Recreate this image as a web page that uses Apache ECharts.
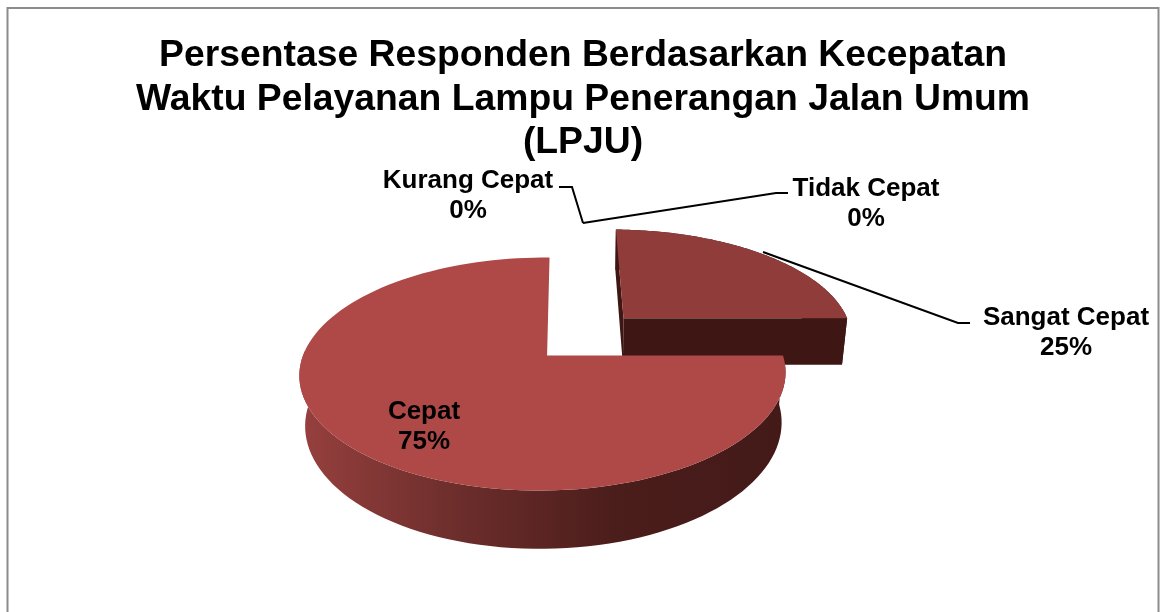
<!DOCTYPE html>
<html>
<head>
<meta charset="utf-8">
<style>
  html, body { margin: 0; padding: 0; background: #fff; }
  #chart { width: 1161px; height: 612px; }
</style>
<script src="https://cdn.jsdelivr.net/npm/echarts@6/dist/echarts.min.js"></script>
</head>
<body>
<div id="chart"></div>
<script>
var categories = ['Sangat Cepat', 'Cepat', 'Kurang Cepat', 'Tidak Cepat'];
var values = [25, 75, 0, 0];
var titleLines = [
    'Persentase Responden Berdasarkan Kecepatan',
    'Waktu Pelayanan Lampu Penerangan Jalan Umum',
    '(LPJU)'
];

// how far each slice is pulled out of the pie, in radii
var pull = [[0.332, -0.346], [0, 0], [0, 0], [0, 0]];
var labelPos = [[1066, 333], [424, 427], [468, 196], [866, 204]];
var leaderLines = [
    [[970, 323], [958, 323], [763, 252]],
    null,
    [[559, 187], [572, 187], [583, 223]],
    [[788, 193], [776, 193], [583, 223]]
];

// projection of the tilted pie
var cx = 543, cy = 355.5, R = 240, A = 113.6, p = 0.159, wall = 49;
var apexU = 0.017, skew = 3.5, vanishX = 590, baseScale = 0.98;

var sliceColors = ['#8f3c3a', '#ae4947'];
var darkColor = '#3e1614';

function project(u, v, isBase) {
    var d = 1 / (1 - p * v);
    var x = cx + (R * u - skew * v) * d;
    var y = cy + A * v * d;
    if (isBase) {
        y += wall * d;
        x = vanishX + (x - vanishX) * baseScale;
    }
    return [x, y];
}

function rimPoint(angle, off) {
    // ray from the slice apex to the circle, angle clockwise from 12 o'clock
    var du = Math.sin(angle), dv = -Math.cos(angle);
    var b = apexU * du;
    var t = -b + Math.sqrt(b * b - apexU * apexU + 1);
    return [apexU + t * du + off[0], t * dv + off[1]];
}

function buildSlice(index) {
    var total = values.reduce(function (a, b) { return a + b; }, 0);
    var before = 0;
    for (var i = 0; i < index; i++) before += values[i];
    var start = before / total * Math.PI * 2;
    var end = (before + values[index]) / total * Math.PI * 2;
    var off = pull[index];
    var pulled = off[0] !== 0 || off[1] !== 0;
    var apex = [apexU + off[0], off[1]];

    var topRim = [], wallTop = [], wallBase = [];
    var steps = 120;
    for (var s = 0; s <= steps; s++) {
        var pt = rimPoint(start + (end - start) * s / steps, off);
        topRim.push(project(pt[0], pt[1], false));
        // the back of the rim is hidden behind the top face
        if (pulled || pt[1] > -0.05) {
            wallTop.push(project(pt[0], pt[1], false));
            wallBase.push(project(pt[0], pt[1], true));
        }
    }
    var topApex = project(apex[0], apex[1], false);
    var baseApex = project(apex[0], apex[1], true);
    var children = [];

    var wallFill = pulled ? darkColor : new echarts.graphic.LinearGradient(300, 0, 785, 0, [
        { offset: 0, color: '#96403e' },
        { offset: 0.3, color: '#6f2f2d' },
        { offset: 0.65, color: '#4b1d1b' },
        { offset: 1, color: '#431a18' }
    ], true);
    children.push({
        type: 'polygon',
        shape: { points: wallTop.concat(wallBase.reverse()) },
        style: { fill: wallFill }
    });
    // cut faces only show on the pulled out slice
    if (pulled) {
        children.push({
            type: 'polygon',
            shape: { points: [topApex, topRim[0], project(off[0] + apexU, off[1] - 1, true), baseApex] },
            style: { fill: darkColor }
        });
        children.push({
            type: 'polygon',
            shape: { points: [topApex, topRim[steps], project(off[0] + 1, off[1], true), baseApex] },
            style: { fill: darkColor }
        });
    }
    children.push({
        type: 'polygon',
        shape: { points: [topApex].concat(topRim) },
        style: { fill: sliceColors[index] }
    });
    return children;
}

function renderSlice(params) {
    var i = params.dataIndex;
    var children = values[i] > 0 ? buildSlice(i) : [];
    if (leaderLines[i]) {
        children.push({
            type: 'polyline',
            shape: { points: leaderLines[i] },
            style: { stroke: '#000', lineWidth: 2, fill: null }
        });
    }
    children.push({
        type: 'text',
        z2: 10,
        style: {
            x: labelPos[i][0],
            y: labelPos[i][1],
            text: categories[i] + '\n' + values[i] + '%',
            fill: '#000',
            font: 'bold 26px "Liberation Sans", Arial, sans-serif',
            lineHeight: 30,
            align: 'center',
            verticalAlign: 'middle'
        }
    });
    return { type: 'group', children: children };
}

var myChart = echarts.init(document.getElementById('chart'), null, { renderer: 'canvas' });
myChart.setOption({
    animation: false,
    backgroundColor: '#fff',
    title: {
        text: titleLines.join('\n'),
        left: 578,
        top: 29,
        textAlign: 'center',
        textStyle: {
            color: '#000',
            fontFamily: '"Liberation Sans", Arial, sans-serif',
            fontWeight: 'bold',
            fontSize: 37.3,
            lineHeight: 43.5
        }
    },
    graphic: [{
        type: 'rect',
        shape: { x: 7.5, y: 8, width: 1151, height: 640 },
        style: { fill: null, stroke: '#8c8c8c', lineWidth: 2 },
        silent: true
    }],
    series: [{
        type: 'custom',
        coordinateSystem: 'none',
        renderItem: renderSlice,
        data: values,
        silent: true
    }]
});
</script>
</body>
</html>
